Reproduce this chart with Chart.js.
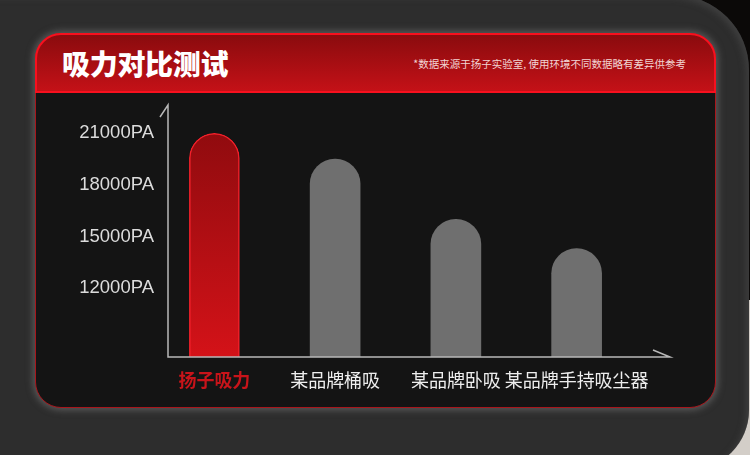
<!DOCTYPE html>
<html>
<head>
<meta charset="utf-8">
<script src="https://cdn.jsdelivr.net/npm/chart.js@4.4.1/dist/chart.umd.min.js"></script>
<style>
  html, body { margin: 0; padding: 0; }
  body { width: 750px; height: 455px; position: relative; overflow: hidden; background: #0b0908; font-family: "Noto Sans CJK SC", sans-serif; }
  #beige { position: absolute; left: 680px; top: 300px; width: 80px; height: 170px; background: #d3cec8; }
  #outer { position: absolute; left: -100px; top: -5px; width: 849px; height: 475px; background: #2d2d2d;
           border-top-right-radius: 75px; border-bottom-right-radius: 60px; box-shadow: inset -3px 3px 6px rgba(80,80,80,.5); }
  #card { position: absolute; left: 35px; top: 33px; width: 681px; height: 375px; box-sizing: border-box;
          background: #141414; border: 1px solid #a8161c; border-radius: 26px;
          box-shadow: 0 0 7px 2px rgba(130,130,130,.55); }
  #head { position: absolute; left: 35px; top: 33px; width: 681px; height: 60px; box-sizing: border-box;
          border: 2px solid #f8101e; border-radius: 26px 26px 0 0;
          background: linear-gradient(to bottom, #8a0b0e, #c41117); }
  #title { position: absolute; left: 25px; top: 0; line-height: 56px; font-size: 28px; font-weight: 900; color: #fff; letter-spacing: -0.3px; }
  #note { position: absolute; right: 28px; top: 0; line-height: 58px; font-size: 10.5px; color: #f2d4d4; }
  #wrap { position: absolute; left: 0; top: 0; width: 750px; height: 455px; }
</style>
</head>
<body>
<div id="beige"></div>
<div id="outer"></div>
<div id="card"></div>
<div id="head">
  <div id="title">吸力对比测试</div>
  <div id="note">*数据来源于扬子实验室, 使用环境不同数据略有差异供参考</div>
</div>
<div id="wrap"><canvas id="mycanvas"></canvas></div>
<script>
var categories = ['扬子吸力', '某品牌桶吸', '某品牌卧吸', '某品牌手持吸尘器'];
var suction = [21000, 19500, 16000, 14300];
var tickValues = [12000, 15000, 18000, 21000];

// axis lines with the little slanted ends
var axisLines = {
	id: 'axisLines',
	afterDatasetsDraw: function(chart) {
		var c = chart.ctx, a = chart.chartArea;
		var x0 = a.left + 14, y0 = a.bottom;
		c.save();
		c.strokeStyle = '#b8b8b8';
		c.lineWidth = 1.5;
		c.beginPath();
		c.moveTo(x0 - 8, a.top + 18);
		c.lineTo(x0, a.top + 6);
		c.lineTo(x0, y0);
		c.lineTo(a.right + 33, y0);
		c.lineTo(a.right + 16, y0 - 7);
		c.stroke();
		c.restore();
	}
};

var ctx = document.getElementById('mycanvas');

var barGraph = new Chart(ctx, {
	type: 'bar',
	data: {
		labels: categories,
		datasets: [{
			label: '吸力',
			data: suction,
			barThickness: 50,
			borderSkipped: 'bottom',
			borderRadius: { topLeft: 25, topRight: 25, bottomLeft: 0, bottomRight: 0 },
			borderWidth: function(c) { return c.dataIndex === 0 ? 1.5 : 0; },
			borderColor: '#f4202a',
			backgroundColor: function(c) {
				if (c.dataIndex !== 0) return '#6f6f6f';
				var a = c.chart.chartArea;
				if (!a) return '#b01015';
				var g = c.chart.ctx.createLinearGradient(0, a.top, 0, a.bottom);
				g.addColorStop(0, '#860a0d');
				g.addColorStop(1, '#d41218');
				return g;
			}
		}]
	},
	options: {
		responsive: true,
		maintainAspectRatio: false,
		animation: false,
		layout: { padding: { left: -5, top: 99, right: 113, bottom: 58 } },
		plugins: { legend: { display: false }, tooltip: { enabled: false } },
		scales: {
			x: {
				offset: true,
				grid: { display: false, drawTicks: false },
				border: { display: false },
				afterFit: function(s) { s.height = 40; },
				ticks: {
					padding: 12,
					autoSkip: false,
					maxRotation: 0,
					minRotation: 0,
					color: function(c) { return c.index === 0 ? '#c8141a' : '#eeeeee'; },
					font: function(c) {
						return { family: '"Noto Sans CJK SC", sans-serif', size: 18, weight: c.index === 0 ? 'bold' : 'normal' };
					}
				}
			},
			y: {
				min: 8000,
				max: 23000,
				grid: { display: false, drawTicks: false },
				border: { display: false },
				afterFit: function(s) { s.width = 159; },
				afterBuildTicks: function(s) {
					s.ticks = tickValues.map(function(v) { return { value: v }; });
				},
				ticks: {
					padding: 0,
					color: '#dcdcdc',
					font: { family: '"Liberation Sans", Arial, sans-serif', size: 18.5 },
					callback: function(v) { return v + 'PA'; }
				}
			}
		}
	},
	plugins: [axisLines]
});
</script>
</body>
</html>
